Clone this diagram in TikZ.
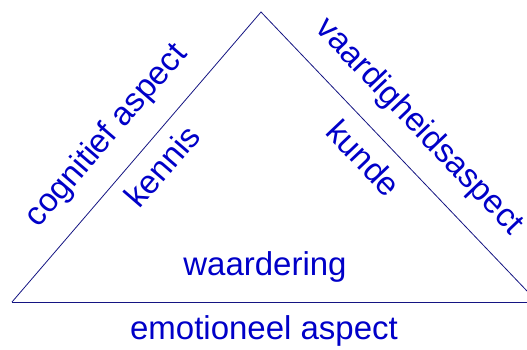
\documentclass[tikz,border=0pt]{standalone}
\usepackage{fontspec}
\setmainfont{Liberation Sans}
\definecolor{edgeblue}{RGB}{20,20,130}
\definecolor{labelblue}{RGB}{0,0,200}
\begin{document}
\begin{tikzpicture}[x=1pt,y=-1pt,
  lbl/.style={text=labelblue,font=\fontsize{33}{36}\selectfont,inner sep=0pt},
  edge/.style={draw=edgeblue,line width=0.8pt}]
  \useasboundingbox (0,0) rectangle (527,349);
  % corners of the triangle
  \coordinate (top) at (261,12);
  \coordinate (left) at (12,302);
  \coordinate (right) at (527,291);
  \coordinate (baseend) at (527,302);
  \draw[edge] (left) -- (top) -- (right);
  \draw[edge] (left) -- (baseend);
  % labels
  \node[lbl] (emo) at (264,331) {emotioneel aspect};
  \node[lbl] (waard) at (265,267) {waardering};
  \node[lbl,rotate=49.3] (cog) at (107,136) {cognitief aspect};
  \node[lbl,rotate=49.3] (ken) at (162,166) {kennis};
  \node[lbl,rotate=-46.4] (vaard) at (419,127) {vaardigheidsaspect};
  \node[lbl,rotate=-46.4] (kun) at (364,158) {kunde};
\end{tikzpicture}
\end{document}
